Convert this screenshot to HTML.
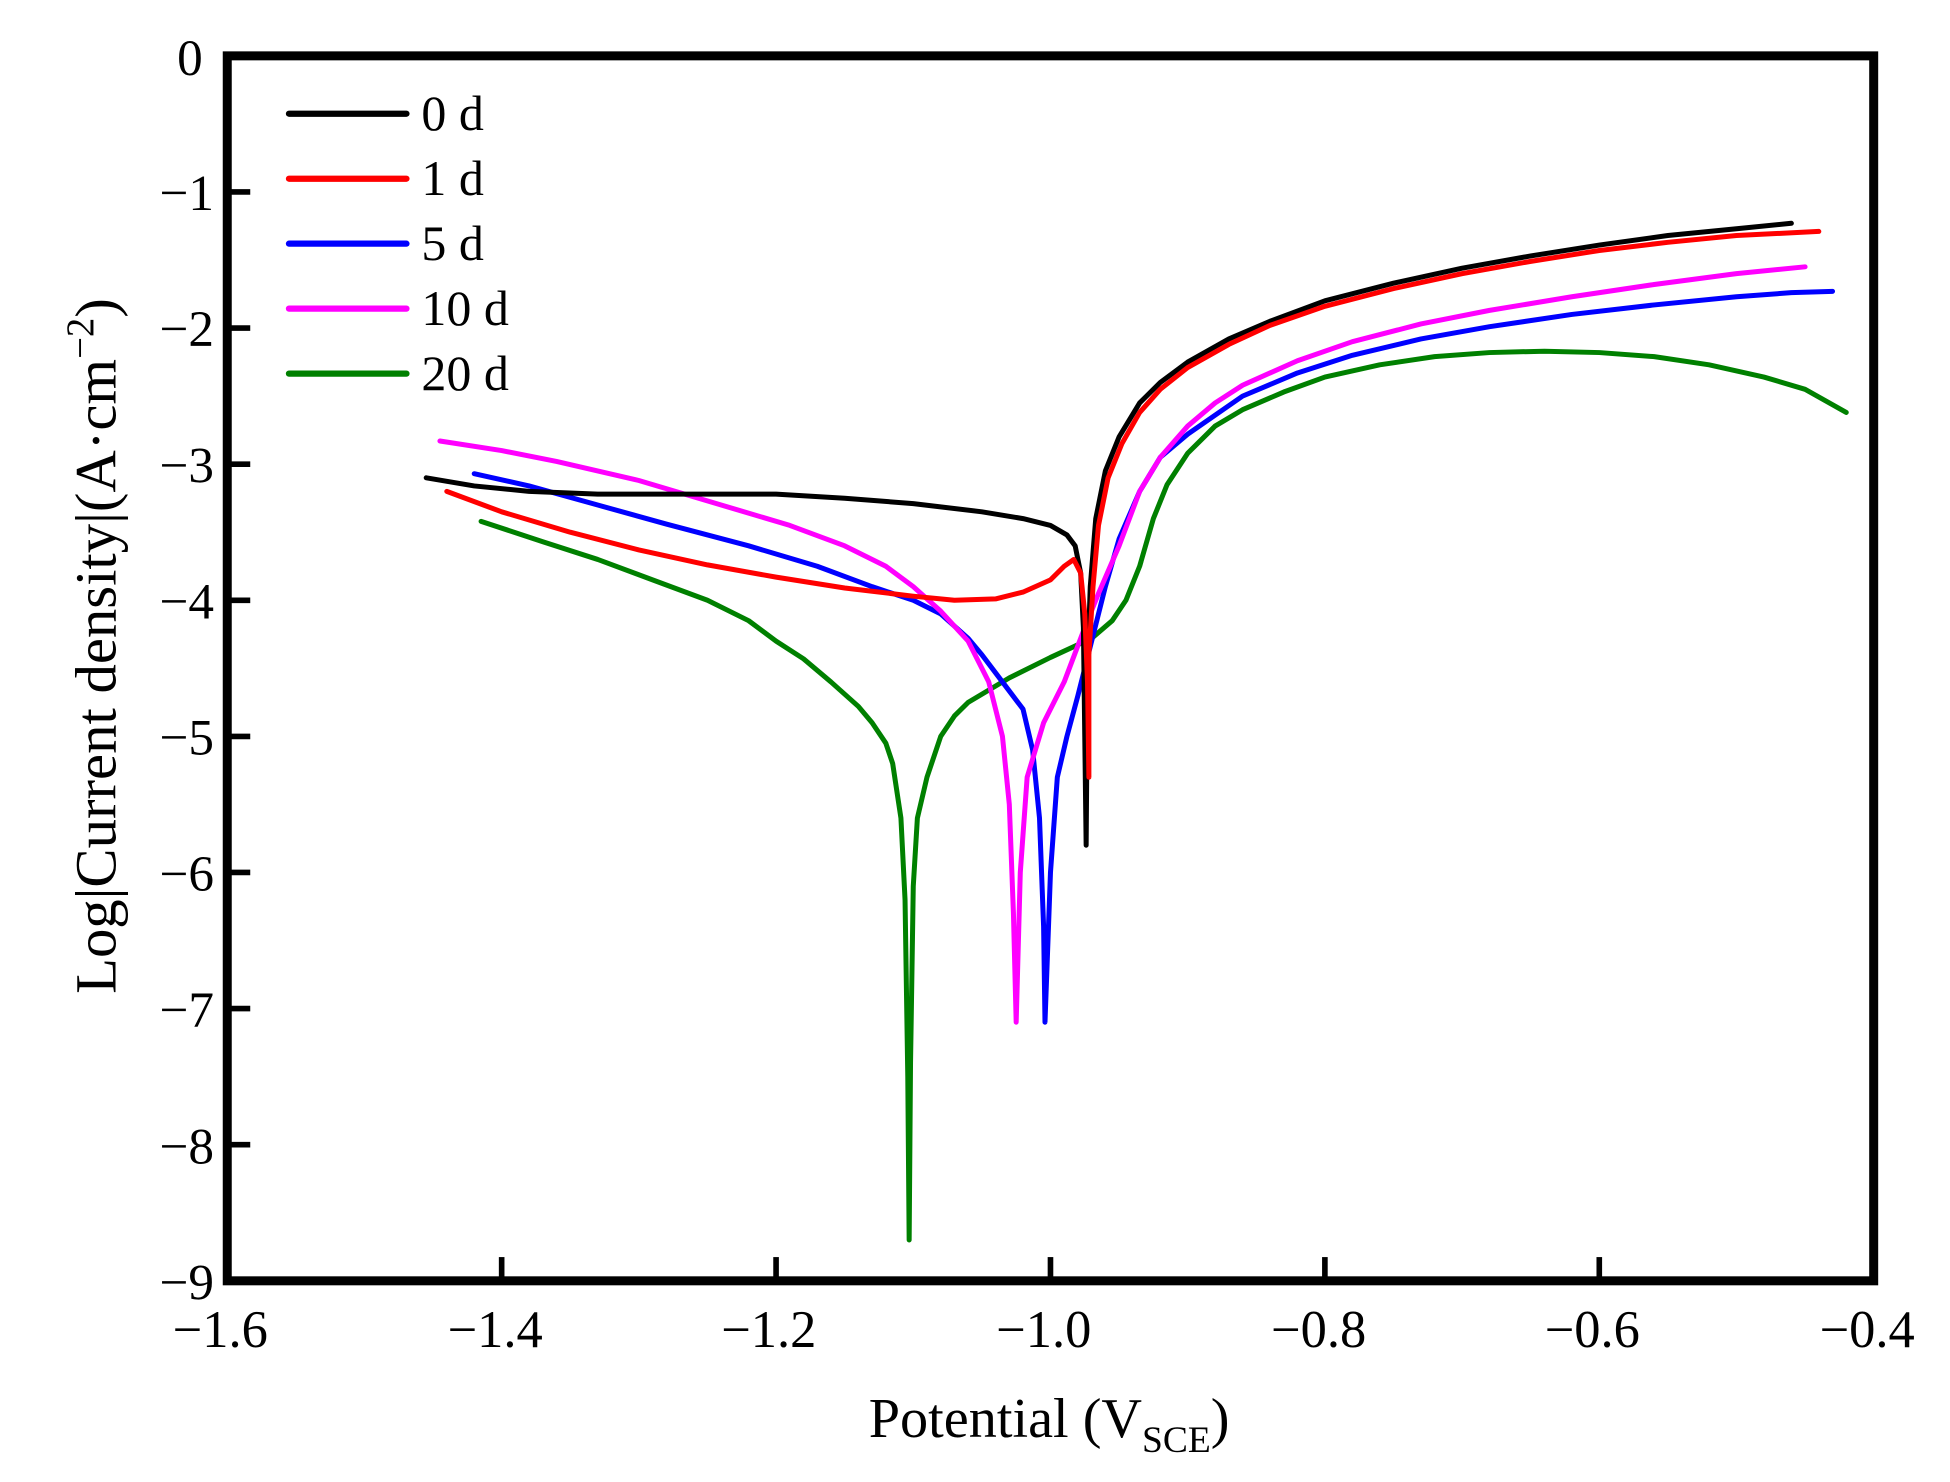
<!DOCTYPE html>
<html><head><meta charset="utf-8"><style>
html,body{margin:0;padding:0;background:#fff;}
svg{display:block;}
text{font-family:"Liberation Serif",serif;fill:#000;}
</style></head><body>
<svg width="1950" height="1482" viewBox="0 0 1560 1186" xmlns="http://www.w3.org/2000/svg">
<rect width="1560" height="1186" fill="#fff"/>
<g transform="translate(1938.4,44.7) scale(1098,-108.92)" fill="none" stroke-linejoin="round" stroke-linecap="round">
<polyline vector-effect="non-scaling-stroke" stroke="#008000" stroke-width="5" points="-1.415,-3.42 -1.37,-3.57 -1.33,-3.7 -1.29,-3.85 -1.25,-4.0 -1.22,-4.15 -1.2,-4.3 -1.18,-4.43 -1.16,-4.6 -1.14,-4.78 -1.13,-4.9 -1.12,-5.05 -1.115,-5.2 -1.109,-5.6 -1.106,-6.2 -1.104,-7.5 -1.103,-8.7 -1.102,-7.4 -1.1,-6.1 -1.097,-5.6 -1.09,-5.3 -1.08,-5.0 -1.07,-4.85 -1.06,-4.75 -1.03,-4.57 -1.0,-4.42 -0.97,-4.28 -0.955,-4.15 -0.945,-4.0 -0.935,-3.75 -0.925,-3.4 -0.915,-3.15 -0.9,-2.92 -0.88,-2.72 -0.86,-2.6 -0.83,-2.47 -0.8,-2.36 -0.76,-2.27 -0.72,-2.21 -0.68,-2.18 -0.64,-2.17 -0.6,-2.18 -0.56,-2.21 -0.52,-2.27 -0.48,-2.36 -0.45,-2.45 -0.42,-2.62"/>
<polyline vector-effect="non-scaling-stroke" stroke="#0000ff" stroke-width="5" points="-1.42,-3.07 -1.38,-3.16 -1.33,-3.3 -1.28,-3.44 -1.22,-3.6 -1.17,-3.75 -1.13,-3.9 -1.1,-4.0 -1.08,-4.1 -1.06,-4.28 -1.05,-4.4 -1.035,-4.6 -1.02,-4.8 -1.013,-5.1 -1.008,-5.6 -1.005,-6.4 -1.004,-7.1 -1.0,-6.0 -0.995,-5.3 -0.988,-5.0 -0.98,-4.7 -0.97,-4.3 -0.96,-3.9 -0.95,-3.55 -0.935,-3.2 -0.92,-2.95 -0.9,-2.78 -0.86,-2.5 -0.82,-2.33 -0.78,-2.2 -0.73,-2.08 -0.68,-1.99 -0.62,-1.9 -0.56,-1.83 -0.5,-1.77 -0.46,-1.74 -0.43,-1.73"/>
<polyline vector-effect="non-scaling-stroke" stroke="#ff00ff" stroke-width="5" points="-1.445,-2.83 -1.4,-2.9 -1.36,-2.98 -1.3,-3.12 -1.24,-3.3 -1.19,-3.45 -1.15,-3.6 -1.12,-3.75 -1.1,-3.9 -1.08,-4.08 -1.06,-4.3 -1.045,-4.6 -1.035,-5.0 -1.03,-5.5 -1.027,-6.3 -1.025,-7.1 -1.022,-6.0 -1.017,-5.3 -1.005,-4.9 -0.99,-4.6 -0.975,-4.2 -0.965,-3.95 -0.95,-3.6 -0.935,-3.2 -0.92,-2.95 -0.9,-2.72 -0.88,-2.55 -0.86,-2.42 -0.82,-2.24 -0.78,-2.1 -0.73,-1.97 -0.68,-1.87 -0.62,-1.77 -0.56,-1.68 -0.5,-1.6 -0.45,-1.55"/>
<polyline vector-effect="non-scaling-stroke" stroke="#000000" stroke-width="5" points="-1.455,-3.1 -1.42,-3.16 -1.38,-3.2 -1.33,-3.22 -1.25,-3.22 -1.2,-3.22 -1.15,-3.25 -1.1,-3.29 -1.05,-3.35 -1.02,-3.4 -1.0,-3.45 -0.988,-3.52 -0.982,-3.6 -0.978,-3.8 -0.976,-4.2 -0.975,-5.0 -0.974,-5.8 -0.973,-4.5 -0.971,-3.9 -0.967,-3.4 -0.96,-3.05 -0.95,-2.8 -0.935,-2.55 -0.92,-2.4 -0.9,-2.25 -0.87,-2.08 -0.84,-1.95 -0.8,-1.8 -0.75,-1.67 -0.7,-1.56 -0.65,-1.47 -0.6,-1.39 -0.55,-1.32 -0.5,-1.27 -0.46,-1.23"/>
<polyline vector-effect="non-scaling-stroke" stroke="#ff0000" stroke-width="5" points="-1.44,-3.2 -1.4,-3.35 -1.35,-3.5 -1.3,-3.63 -1.25,-3.74 -1.2,-3.83 -1.15,-3.91 -1.1,-3.97 -1.07,-4.0 -1.04,-3.99 -1.02,-3.94 -1.0,-3.85 -0.99,-3.75 -0.983,-3.7 -0.978,-3.8 -0.975,-4.1 -0.973,-4.6 -0.972,-5.3 -0.972,-4.4 -0.969,-3.9 -0.965,-3.45 -0.958,-3.1 -0.948,-2.85 -0.935,-2.62 -0.92,-2.45 -0.9,-2.29 -0.87,-2.12 -0.84,-1.98 -0.8,-1.84 -0.75,-1.71 -0.7,-1.6 -0.65,-1.51 -0.6,-1.43 -0.55,-1.37 -0.5,-1.32 -0.44,-1.29"/>
</g>
<rect x="181.6" y="44.7" width="1317.6" height="980.3" fill="none" stroke="#000" stroke-width="7.2"/>
<g stroke="#000" stroke-width="4.5">
<line x1="401.2" y1="1025" x2="401.2" y2="1006"/><line x1="620.8" y1="1025" x2="620.8" y2="1006"/><line x1="840.4" y1="1025" x2="840.4" y2="1006"/><line x1="1060" y1="1025" x2="1060" y2="1006"/><line x1="1279.6" y1="1025" x2="1279.6" y2="1006"/>
<line x1="181.6" y1="153.6" x2="200" y2="153.6"/><line x1="181.6" y1="262.5" x2="200" y2="262.5"/><line x1="181.6" y1="371.5" x2="200" y2="371.5"/><line x1="181.6" y1="480.4" x2="200" y2="480.4"/><line x1="181.6" y1="589.3" x2="200" y2="589.3"/><line x1="181.6" y1="698.2" x2="200" y2="698.2"/><line x1="181.6" y1="807.1" x2="200" y2="807.1"/><line x1="181.6" y1="916.1" x2="200" y2="916.1"/>
</g>
<g font-size="41" text-anchor="end">
<text x="162" y="60">0</text>
<text x="171" y="168">−1</text>
<text x="171" y="277">−2</text>
<text x="171" y="386">−3</text>
<text x="171" y="495">−4</text>
<text x="171" y="604">−5</text>
<text x="171" y="713">−6</text>
<text x="171" y="822">−7</text>
<text x="171" y="931">−8</text>
<text x="171" y="1040">−9</text>
</g>
<g font-size="42" text-anchor="middle">
<text x="176" y="1078">−1.6</text>
<text x="396" y="1078">−1.4</text>
<text x="615" y="1078">−1.2</text>
<text x="835" y="1078">−1.0</text>
<text x="1055" y="1078">−0.8</text>
<text x="1274" y="1078">−0.6</text>
<text x="1494" y="1078">−0.4</text>
</g>
<text x="695" y="1150" font-size="45">Potential (V<tspan font-size="30" dy="12">SCE</tspan><tspan dy="-12">)</tspan></text>
<text transform="translate(92,517) rotate(-90)" font-size="47" text-anchor="middle">Log|Current density|(A·cm<tspan font-size="31" dy="-18">−2</tspan><tspan dy="18">)</tspan></text>
<g stroke-width="5" stroke-linecap="round">
<line x1="231" y1="91" x2="325" y2="91" stroke="#000"/>
<line x1="231" y1="143" x2="325" y2="143" stroke="#ff0000"/>
<line x1="231" y1="195" x2="325" y2="195" stroke="#0000ff"/>
<line x1="231" y1="247" x2="325" y2="247" stroke="#ff00ff"/>
<line x1="231" y1="299" x2="325" y2="299" stroke="#008000"/>
</g>
<g font-size="40">
<text x="337" y="104">0 d</text>
<text x="337" y="156">1 d</text>
<text x="337" y="208">5 d</text>
<text x="337" y="260">10 d</text>
<text x="337" y="312">20 d</text>
</g>
</svg>
</body></html>
